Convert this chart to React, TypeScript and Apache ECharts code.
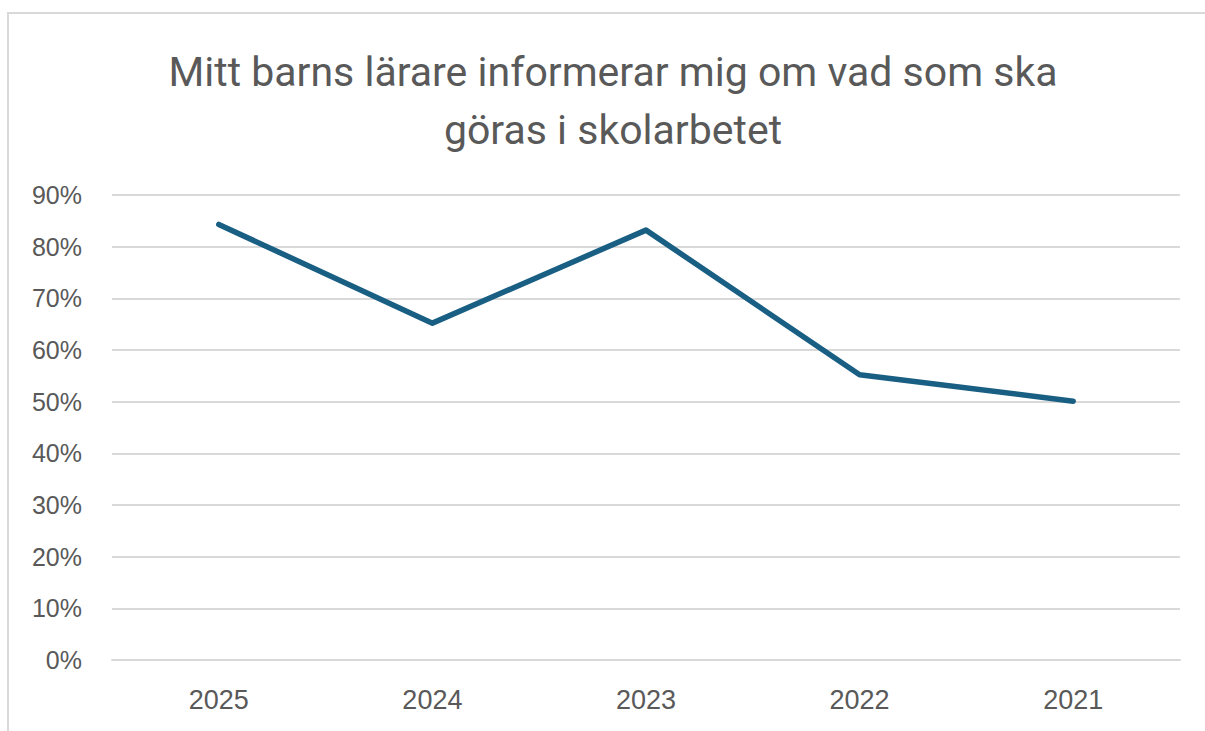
import React, { useEffect, useRef } from "react";
import * as echarts from "echarts";

const categories = ["2025", "2024", "2023", "2022", "2021"];
const values = [84.3, 65.2, 83.2, 55.2, 50.1];
const titleLines = ["Mitt barns lärare informerar mig om vad som ska", "göras i skolarbetet"];

export default function App() {
  const ref = useRef<HTMLDivElement>(null);
  useEffect(() => {
    if (!ref.current) return;
    const chart = echarts.init(ref.current, null, { renderer: "svg" });
    chart.setOption({
      animation: false,
      backgroundColor: "#ffffff",
      title: {
        text: titleLines.join("\n"),
        left: 608,
        top: 38,
        textAlign: "center",
        textStyle: {
          fontFamily: "Roboto",
          fontSize: 41,
          lineHeight: 58,
          fontWeight: "normal",
          color: "#595959",
        },
      },
      graphic: [
        {
          type: "line",
          shape: { x1: 7, y1: 13, x2: 1205, y2: 13 },
          style: { stroke: "#d9d9d9", lineWidth: 2 },
          silent: true,
        },
        {
          type: "line",
          shape: { x1: 8, y1: 12, x2: 8, y2: 731 },
          style: { stroke: "#d9d9d9", lineWidth: 2 },
          silent: true,
        },
      ],
      grid: { left: 112, right: 25, top: 195, bottom: 71, containLabel: false },
      xAxis: {
        type: "category",
        data: categories,
        boundaryGap: true,
        axisLine: { show: true, lineStyle: { color: "#d9d9d9", width: 2 } },
        axisTick: { show: false },
        axisLabel: {
          margin: 26,
          fontFamily: "Liberation Sans",
          fontSize: 27,
          color: "#595959",
        },
      },
      yAxis: {
        type: "value",
        min: 0,
        max: 90,
        interval: 10,
        axisLine: { show: false },
        axisTick: { show: false },
        splitLine: { lineStyle: { color: "#d9d9d9", width: 2 } },
        axisLabel: {
          margin: 30,
          fontFamily: "Liberation Sans",
          fontSize: 25,
          color: "#595959",
          formatter: (v: number) => `${v}%`,
        },
      },
      series: [
        {
          type: "line",
          data: values,
          symbol: "none",
          lineStyle: { color: "#195e83", width: 5.5, cap: "round", join: "round" },
        },
      ],
    });
    return () => chart.dispose();
  }, []);
  return (
    <div
      ref={ref}
      style={{ position: "fixed", left: 0, top: 0, width: 1205, height: 731 }}
    />
  );
}
